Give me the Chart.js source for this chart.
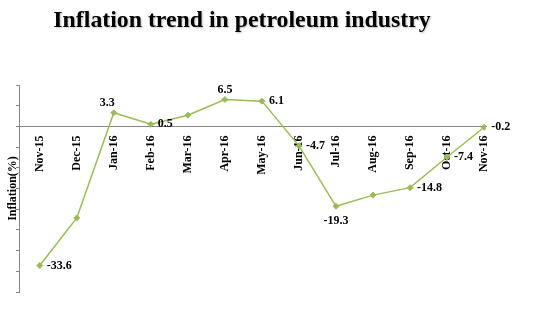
<!DOCTYPE html>
<html>
<head>
<meta charset="utf-8">
<script src="https://cdn.jsdelivr.net/npm/chart.js@4/dist/chart.umd.min.js"></script>
<style>
  html, body { margin: 0; padding: 0; background: #ffffff; }
  #wrap { width: 535px; height: 328px; }
</style>
</head>
<body>
<div id="wrap"><canvas id="chart" width="535" height="328"></canvas></div>
<script>
// Monthly inflation (%) in the petroleum industry
const months = ['Nov-15', 'Dec-15', 'Jan-16', 'Feb-16', 'Mar-16', 'Apr-16', 'May-16',
                'Jun-16', 'Jul-16', 'Aug-16', 'Sep-16', 'Oct-16', 'Nov-16'];
const inflation = [-33.6, -22.1, 3.3, 0.5, 2.7, 6.5, 6.1, -4.7, -19.3, -16.6, -14.8, -7.4, -0.2];
// where each value label sits relative to its marker ('none' = unlabelled)
const labelPlacement = ['right', 'none', 'topleft', 'right', 'none', 'top', 'right',
                        'right', 'bottom', 'none', 'right', 'right', 'right'];
const yTicks = { min: -40, max: 10, step: 5 };

const titleText = 'Inflation trend in petroleum industry';
const serif = '"Liberation Serif", "Times New Roman", serif';
const lineColor = '#9BBB59';
const axisColor = '#868686';

const points = inflation.map((v, i) => ({ x: i, y: v }));

// Title drawn above the plot
const titlePlugin = {
  id: 'chartTitle',
  afterDraw(chart) {
    const ctx = chart.ctx;
    ctx.save();
    ctx.font = 'bold 23.8px ' + serif;
    ctx.fillStyle = '#000';
    ctx.textAlign = 'center';
    ctx.textBaseline = 'alphabetic';
    ctx.shadowColor = 'rgba(0,0,0,0.25)';
    ctx.shadowOffsetX = 1;
    ctx.shadowOffsetY = 1;
    ctx.shadowBlur = 2;
    ctx.fillText(titleText, 242, 27);
    ctx.restore();
  }
};

// Value labels next to the markers
const valueLabels = {
  id: 'valueLabels',
  afterDatasetsDraw(chart) {
    const ctx = chart.ctx;
    const meta = chart.getDatasetMeta(0);
    ctx.save();
    ctx.font = 'bold 12px ' + serif;
    ctx.fillStyle = '#000';
    meta.data.forEach((pt, i) => {
      const place = labelPlacement[i];
      if (place === 'none') return;
      const txt = String(inflation[i]);
      let x = pt.x, y = pt.y;
      ctx.textBaseline = 'middle';
      if (place === 'right') {
        ctx.textAlign = 'left';
        x += 7;
      } else if (place === 'top') {
        ctx.textAlign = 'center';
        y -= 10;
      } else if (place === 'topleft') {
        ctx.textAlign = 'right';
        x += 1;
        y -= 10;
      } else if (place === 'bottom') {
        ctx.textAlign = 'center';
        y += 15;
      }
      ctx.fillText(txt, x, y);
    });
    ctx.restore();
  }
};

new Chart(document.getElementById('chart'), {
  type: 'line',
  data: {
    datasets: [{
      data: points,
      borderColor: lineColor,
      backgroundColor: lineColor,
      borderWidth: 1.5,
      tension: 0,
      pointStyle: 'rectRot',
      pointRadius: 3,
      pointHoverRadius: 3,
      pointBackgroundColor: lineColor,
      pointBorderColor: lineColor,
      pointBorderWidth: 1
    }]
  },
  options: {
    responsive: false,
    animation: false,
    events: [],
    layout: { padding: { top: 85, bottom: 36, left: 0, right: 49 } },
    plugins: {
      legend: { display: false },
      tooltip: { enabled: false },
      title: { display: false }
    },
    scales: {
      x: {
        type: 'linear',
        position: { y: 0 },
        min: -0.56,
        max: 12.05,
        afterFit(scale) { scale.height = 0; },
        grid: { display: false },
        border: { display: true, color: axisColor, width: 1 },
        ticks: {
          stepSize: 1,
          includeBounds: false,
          autoSkip: false,
          minRotation: 90,
          maxRotation: 90,
          padding: 1,
          color: '#000',
          font: { family: serif, size: 12, weight: 'bold' },
          callback: (v) => (Number.isInteger(v) && months[v]) ? months[v] : ''
        }
      },
      y: {
        position: 'left',
        min: yTicks.min,
        max: yTicks.max,
        afterFit(scale) { scale.width = 19; },
        grid: {
          display: true,
          drawOnChartArea: false,
          drawTicks: true,
          tickLength: 3,
          color: axisColor
        },
        border: { display: true, color: axisColor, width: 1 },
        ticks: { display: false, stepSize: yTicks.step },
        title: {
          display: true,
          text: 'Inflation(%)',
          color: '#000',
          font: { family: serif, size: 12, weight: 'bold' },
          padding: { top: 6, bottom: 0 }
        }
      }
    }
  },
  plugins: [titlePlugin, valueLabels]
});
</script>
</body>
</html>
